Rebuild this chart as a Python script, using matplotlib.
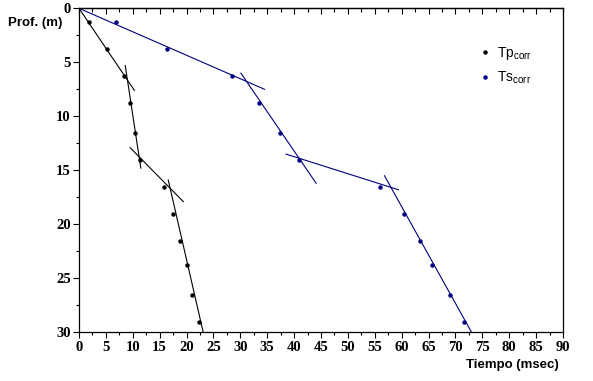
import numpy as np
import matplotlib
matplotlib.use("Agg")
import matplotlib.pyplot as plt
from matplotlib.ticker import MultipleLocator, NullFormatter

# measured points: time (msec) vs depth (m)
depth = [1.25, 3.75, 6.25, 8.75, 11.5, 14.0, 16.5, 19.0, 21.5, 23.75, 26.5, 29.0]
tp_corr = [1.9, 5.3, 8.4, 9.5, 10.4, 11.3, 15.9, 17.4, 18.8, 20.0, 21.0, 22.4]
ts_corr = [6.9, 16.4, 28.5, 33.5, 37.4, 41.0, 56.0, 60.5, 63.4, 65.6, 69.0, 71.5]

# fitted segments, (t0, z0, t1, z1)
tp_fits = [(0.0, 0.0, 10.3, 7.6),
           (8.6, 5.3, 11.5, 14.8),
           (9.5, 12.9, 19.4, 17.9),
           (16.6, 15.9, 23.1, 30.0)]
ts_fits = [(0.0, 0.0, 34.5, 7.5),
           (30.1, 6.0, 44.1, 16.2),
           (38.5, 13.5, 59.4, 16.8),
           (56.8, 15.5, 73.0, 30.0)]

navy = "#00007f"

fig = plt.figure(figsize=(5.93, 3.81), dpi=100)
ax = fig.add_axes([0.1332, 0.1278, 0.8162, 0.8504])

for t0, z0, t1, z1 in tp_fits:
    ax.plot([t0, t1], [z0, z1], color="k", lw=0.8)
for t0, z0, t1, z1 in ts_fits:
    ax.plot([t0, t1], [z0, z1], color=navy, lw=0.8)

ax.plot(tp_corr, depth, "o", ms=2.2, color="k", label=r"$\mathregular{Tp_{corr}}$")
ax.plot(ts_corr, depth, "o", ms=2.2, color=navy, label=r"$\mathregular{Ts_{corr}}$")

ax.set_xlim(0, 90)
ax.set_ylim(30, 0)
ax.xaxis.set_major_locator(MultipleLocator(5))
ax.xaxis.set_minor_locator(MultipleLocator(2.5))
ax.yaxis.set_major_locator(MultipleLocator(5))
ax.yaxis.set_minor_locator(MultipleLocator(2.5))
ax.tick_params(which="major", direction="out", length=4, width=0.8, pad=2)
ax.tick_params(which="minor", direction="out", length=2, width=0.8)
for sp in ax.spines.values():
    sp.set_linewidth(0.9)

# inward ticks along the top edge
top = ax.secondary_xaxis("top")
top.xaxis.set_major_locator(MultipleLocator(5))
top.xaxis.set_minor_locator(MultipleLocator(2.5))
top.xaxis.set_major_formatter(NullFormatter())
top.tick_params(which="major", direction="in", length=4, width=0.8)
top.tick_params(which="minor", direction="in", length=3, width=0.8)
top.spines["top"].set_linewidth(0.9)

for lab in ax.get_xticklabels() + ax.get_yticklabels():
    lab.set_fontfamily("Liberation Serif")
    lab.set_fontweight("bold")
    lab.set_fontsize(10.5)

fig.text(0.013, 0.94, "Prof. (m)", fontfamily="Liberation Sans",
         fontweight="bold", fontsize=9.5, va="center", ha="left")
fig.text(0.943, 0.042, "Tiempo (msec)", fontfamily="Liberation Sans",
         fontweight="bold", fontsize=9.5, va="center", ha="right")

leg = ax.legend(loc="upper right", bbox_to_anchor=(0.962, 0.925), frameon=False,
                handlelength=0.6, handletextpad=0.6, labelspacing=0.55,
                prop={"family": "Liberation Sans", "size": 10})

fig.savefig("out.png", dpi=100)
